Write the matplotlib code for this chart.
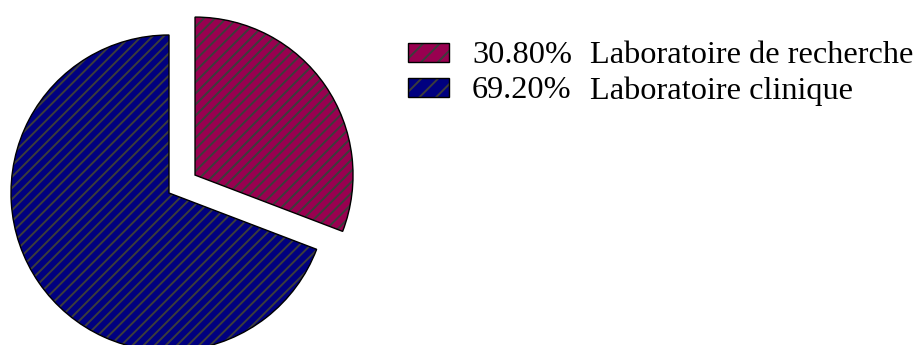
import matplotlib.pyplot as plt
from matplotlib.patches import Rectangle, Wedge

shares = [30.80, 69.20]
names = ['Laboratoire de recherche', 'Laboratoire clinique']
colors = ['#990050', '#000080']
explode = [31.6, 0.0]  # pie offsets are in data units here (radius is 158)

plt.rcParams['font.family'] = ['Liberation Serif', 'DejaVu Serif']
plt.rcParams['hatch.linewidth'] = 1.4

W, H = 923, 345
fig = plt.figure(figsize=(W / 100, H / 100), dpi=100)
ax = fig.add_axes([0, 0, 1, 1])

# hatched wedges with grey stripes, black outline drawn on top
wedges, _ = ax.pie(shares, colors=colors, explode=explode, startangle=90,
                   counterclock=False, radius=158, center=(169, H - 193),
                   wedgeprops=dict(edgecolor='#3c3c3c', linewidth=0, hatch='///'),
                   frame=True)
for w in wedges:
    ax.add_patch(Wedge(w.center, w.r, w.theta1, w.theta2, fill=False,
                       edgecolor='black', linewidth=1.0))

ax.set_xlim(0, W)
ax.set_ylim(0, H)
ax.set_aspect('equal')
ax.axis('off')

# legend block
for i, (pct, name, col) in enumerate(zip(shares, names, colors)):
    yc = H - (52 + 35.5 * i)
    ax.add_patch(Rectangle((408, yc - 9.5), 41, 19, facecolor=col, edgecolor='#3c3c3c',
                           linewidth=0, hatch='//'))
    ax.add_patch(Rectangle((408, yc - 9.5), 41, 19, fill=False,
                           edgecolor='black', linewidth=1.0))
    ax.text(472, yc, f'{pct:.2f}%', fontsize=23.3, va='center_baseline', ha='left')
    ax.text(590, yc, name, fontsize=23.3, va='center_baseline', ha='left')

fig.savefig('out.png', dpi=100)
